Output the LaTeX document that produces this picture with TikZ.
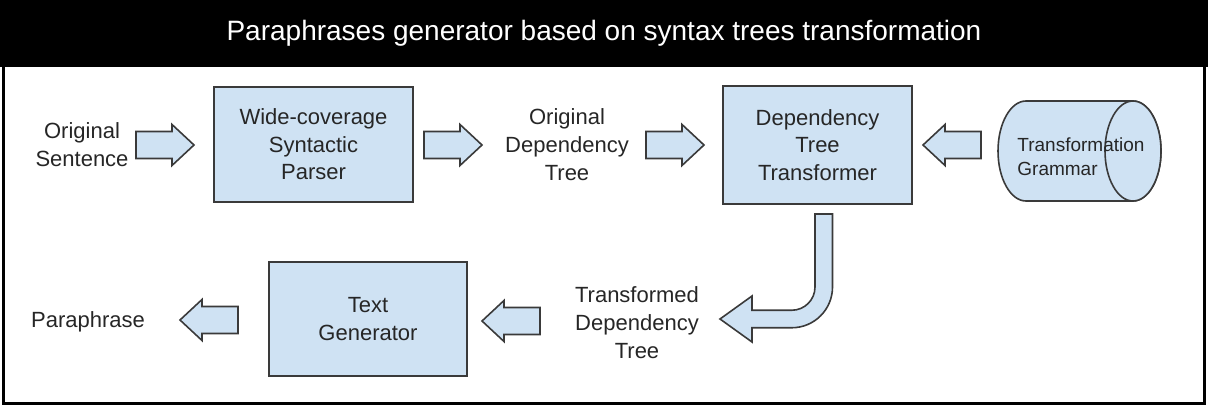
\documentclass[tikz,border=0pt]{standalone}
\usepackage{fontspec}
\setmainfont{Liberation Sans}
\definecolor{boxFill}{HTML}{CFE2F3}
\definecolor{boxLine}{HTML}{3A3A3A}
\tikzset{
	stage/.style={draw=boxLine, line width=1pt, fill=boxFill, align=center, text=black!85,
		inner sep=0pt, font=\fontsize{11}{13.75}\selectfont},
	datalabel/.style={align=center, text=black!85, font=\fontsize{11}{14}\selectfont},
	arrow body/.style={draw=boxLine, line width=0.8pt, fill=boxFill, line join=miter},
	blockarrow/.pic={\path[arrow body] (-29,-13.5) -- (7,-13.5) -- (7,-20.5) -- (29,0)
		-- (7,20.5) -- (7,13.5) -- (-29,13.5) -- cycle;}
}

\begin{document}
\begin{tikzpicture}[x=0.5pt, y=-0.5pt]
	\useasboundingbox (0,0) rectangle (1208,406);
	% frame and title bar
	\fill[black] (0,0) rectangle (1208,67);
	\draw[line width=1.5pt] (3.5,1) rectangle (1204.5,403.5);
	\node[text=white, font=\fontsize{14}{17}\selectfont] (title) at (604,33) {Paraphrases generator based on syntax trees transformation};
	% upper row
	\node[datalabel] (sentence) at (82,145) {Original\\Sentence};
	\node[stage, minimum width=99.5pt, minimum height=57.5pt] (parser) at (313.5,144.5) {Wide-coverage\\Syntactic\\Parser};
	\node[datalabel] (origtree) at (567,145) {Original\\Dependency\\Tree};
	\node[stage, minimum width=94.5pt, minimum height=59pt] (transformer) at (817.5,145) {Dependency\\Tree\\Transformer};
	% grammar store (cylinder)
	\path[arrow body] (1026,101) arc[start angle=270, end angle=90, x radius=28, y radius=50]
		-- (1133,201) arc[start angle=90, end angle=-90, x radius=28, y radius=50] -- cycle;
	\path[arrow body] (1133,151) ellipse[x radius=28, y radius=50];
	\node[align=left, anchor=west, inner sep=0pt, text=black!85,
		font=\fontsize{9.5}{12}\selectfont] (grammar) at (1017,157) {Transformation\\Grammar};
	\pic at (165,145) {blockarrow};
	\pic at (453,145) {blockarrow};
	\pic at (675,145) {blockarrow};
	\pic[rotate=180] at (952,145) {blockarrow};
	% bent arrow down to the lower row
	\path[arrow body] (815,214) -- (815,287) arc[start angle=0, end angle=90, radius=23.25]
		-- (752,310.25) -- (752,296) -- (720,319) -- (752,342) -- (752,327.75) -- (791.75,327.75)
		arc[start angle=90, end angle=0, radius=40.75] -- (832.5,214) -- cycle;
	% lower row
	\node[datalabel] (transtree) at (637,323) {Transformed\\Dependency\\Tree};
	\node[stage, minimum width=99pt, minimum height=57pt] (generator) at (368,319) {Text\\Generator};
	\node[datalabel] (paraphrase) at (88,322) {Paraphrase};
	\pic[rotate=180] at (511,321) {blockarrow};
	\pic[rotate=180] at (209,320) {blockarrow};
\end{tikzpicture}
\end{document}
